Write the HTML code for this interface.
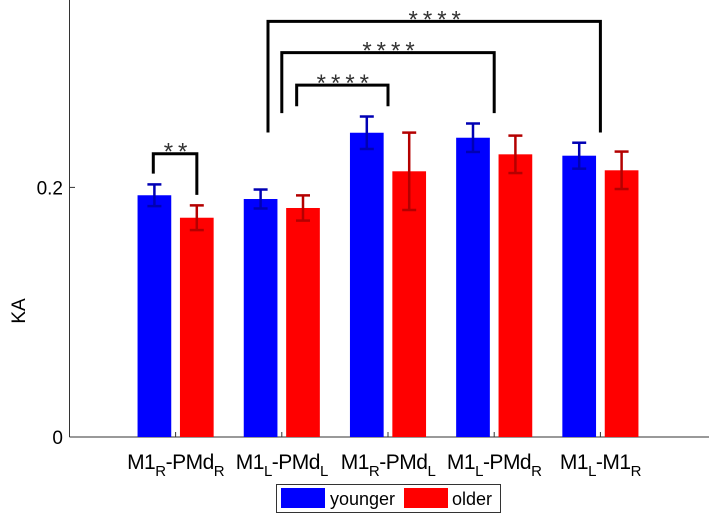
<!DOCTYPE html>
<html><head><meta charset="utf-8">
<style>
html,body{margin:0;padding:0;background:#fff;}
svg{display:block;font-family:"Liberation Sans",Arial,sans-serif;}
</style></head>
<body>
<svg id="chart" width="709" height="523" viewBox="0 0 709 523"></svg>
<script>
const categories = [["M1","R","-PMd","R"],["M1","L","-PMd","L"],["M1","R","-PMd","L"],["M1","L","-PMd","R"],["M1","L","-M1","R"]];
const youngerValues = [0.1937, 0.1907, 0.2438, 0.2398, 0.2254];
const youngerErrors = [0.0087, 0.0076, 0.0130, 0.0114, 0.0104];
const olderValues = [0.1757, 0.1835, 0.2129, 0.2265, 0.2137];
const olderErrors = [0.0099, 0.0101, 0.0310, 0.0150, 0.0150];
const yTicks = [0, 0.2];
const yTickLabels = ["0", "0.2"];
// brackets: [x start (category units), x end, top value, left foot value, right foot value, label]
const brackets = [
  [0.79, 1.20, 0.2270, 0.2110, 0.1940, "**"],
  [2.14, 3.00, 0.2820, 0.2650, 0.2650, "****"],
  [2.00, 4.00, 0.3080, 0.2595, 0.2595, "****"],
  [1.87, 5.00, 0.3330, 0.2440, 0.2440, "****"]
];

const NS = "http://www.w3.org/2000/svg";
const svg = document.getElementById("chart");
const x0 = 69.4, xStep = 106.2, y0 = 437, yScale = 1248;
const xs = c => x0 + c * xStep;
const ys = v => y0 - v * yScale;
const barW = 33.7, off = 21.2;
function mk(tag, attrs, parent) {
  const e = document.createElementNS(NS, tag);
  for (const k in attrs) e.setAttribute(k, attrs[k]);
  (parent || svg).appendChild(e);
  return e;
}
let ax = mk("line", {x1: 69.5, y1: 0, x2: 69.5, y2: y0, stroke: "#333", "stroke-width": 1});


let bx = mk("line", {x1: 69.5, y1: y0, x2: 709, y2: y0, stroke: "#333", "stroke-width": 1});


yTicks.forEach((t, i) => {
  let tk = mk("line", {x1: 69.5, y1: ys(t), x2: 75, y2: ys(t), stroke: "#333"});
  
  
  let tl = mk("text", {x: 63, y: ys(t) + 7, "text-anchor": "end", "font-size": 19, fill: "#000"});
  tl.textContent = yTickLabels[i];
  
  
});
let yl = mk("text", {x: 0, y: 0, transform: "translate(25,311) rotate(-90)", "text-anchor": "middle", "font-size": 19});
yl.textContent = "KA";



function errBar(cx, v, e, col) {
  const g = mk("g", {stroke: col, "stroke-width": 2.5});
  
  
  mk("line", {x1: cx, y1: ys(v + e), x2: cx, y2: ys(v - e)}, g);
  mk("line", {x1: cx - 7, y1: ys(v + e), x2: cx + 7, y2: ys(v + e)}, g);
  mk("line", {x1: cx - 7, y1: ys(v - e), x2: cx + 7, y2: ys(v - e)}, g);
}
categories.forEach((c, i) => {
  const cx = xs(i + 1);
  let b1 = mk("rect", {x: cx - off - barW / 2, y: ys(youngerValues[i]), width: barW, height: ys(0) - ys(youngerValues[i]), fill: "#0000ff"});
  
  
  let b2 = mk("rect", {x: cx + off - barW / 2, y: ys(olderValues[i]), width: barW, height: ys(0) - ys(olderValues[i]), fill: "#ff0000"});
  
  
  errBar(cx - off, youngerValues[i], youngerErrors[i], "#0000b4");
  errBar(cx + off, olderValues[i], olderErrors[i], "#b40000");
  let tk = mk("line", {x1: cx, y1: y0, x2: cx, y2: y0 - 5, stroke: "#333"});
  
  
  let t = mk("text", {x: cx, y: 469, "text-anchor": "middle", "font-size": 21, "letter-spacing": -0.5});
  
  
  const parts = [[c[0], 0, 21], [c[1], 7, 15], [c[2], -7, 21], [c[3], 7, 15]];
  parts.forEach(([s, dy, fs]) => {
    const ts = mk("tspan", {dy: dy, "font-size": fs}, t);
    ts.textContent = s;
  });
});
brackets.forEach(b => {
  const [a, c, top, lf, rf, lab] = b;
  const p = mk("path", {d: `M${xs(a)},${ys(lf)} L${xs(a)},${ys(top)} L${xs(c)},${ys(top)} L${xs(c)},${ys(rf)}`, fill: "none", stroke: "#000", "stroke-width": 3});
  
  
  const t = mk("text", {x: (xs(a) + xs(c)) / 2 + 3, y: ys(top) + 6, "text-anchor": "middle", "font-size": 24, "letter-spacing": 5, fill: "#333"});
  t.textContent = lab;
  
  
});
const lg = mk("g", {});


mk("rect", {x: 276.5, y: 484.5, width: 224, height: 28, fill: "#fff", stroke: "#333"}, lg);
let e1 = mk("rect", {x: 281, y: 488, width: 44, height: 20, fill: "#0000ff"}, lg);


let t1 = mk("text", {x: 330, y: 505, "font-size": 18}, lg);
t1.textContent = "younger";


let e2 = mk("rect", {x: 404, y: 488, width: 44, height: 20, fill: "#ff0000"}, lg);


let t2 = mk("text", {x: 452, y: 505, "font-size": 18}, lg);
t2.textContent = "older";


</script>
</body></html>
